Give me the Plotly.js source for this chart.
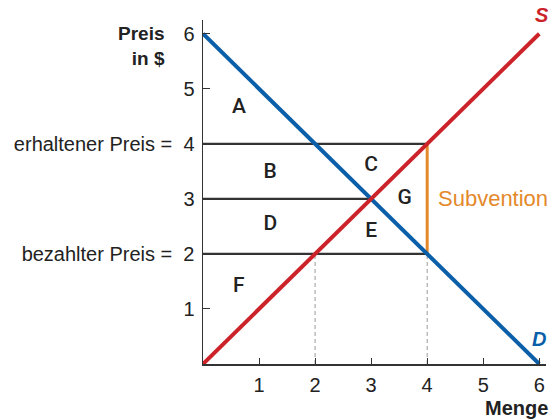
<!DOCTYPE html>
<html><head><meta charset="utf-8">
<script src="https://cdn.plot.ly/plotly-3.0.1.min.js"></script>
<style>html,body{margin:0;padding:0;background:#fff}#chart{width:551px;height:420px}</style>
</head><body><div id="chart"></div>
<script>
// Data
const demandQ = [0, 6];
const demandP = [6, 0];
const supplyQ = [0, 6];
const supplyP = [0, 6];
const receivedQ = [0, 4];
const receivedP = [4, 4];
const eqQ = [0, 3];
const eqP = [3, 3];
const paidQ = [0, 4];
const paidP = [2, 2];
const subsidyQ = [4, 4];
const subsidyP = [2, 4];
const dash2Q = [2, 2];
const dash2P = [0, 2];
const dash4Q = [4, 4];
const dash4P = [0, 2];
const yTickVals = [1, 2, 3, 4, 5, 6];
const yTickText = ['1', 'bezahlter Preis = \u00a02', '3', 'erhaltener Preis = \u00a04', '5', '6'];
const xTickVals = [1, 2, 3, 4, 5, 6];
const xTickText = ['1', '2', '3', '4', '5', '6'];
const areaLabels = ['A', 'B', 'C', 'D', 'E', 'F', 'G'];
const areaQ = [0.64, 1.2, 3.0, 1.2, 3.0, 0.64, 3.6];
const areaP = [4.65, 3.48, 3.6, 2.53, 2.4, 1.4, 3.0];

const blue = '#0a5fa8', red = '#cc2229', orange = '#e4892b', dark = '#333333';
const font = 'Liberation Sans, Arial, sans-serif';

const line = (x, y, color, width, dash) => ({x, y, mode: 'lines', type: 'scatter', hoverinfo: 'skip',
  line: {color, width, dash: dash || 'solid'}, showlegend: false, cliponaxis: false});

const traces = [
  line(dash2Q, dash2P, '#9a9a9a', 1, '4px,3px'),
  line(dash4Q, dash4P, '#9a9a9a', 1, '4px,3px'),
  line(receivedQ, receivedP, dark, 2.2),
  line(eqQ, eqP, dark, 2.2),
  line(paidQ, paidP, dark, 2.2),
  line(subsidyQ, subsidyP, orange, 3),
  line(demandQ, demandP, blue, 4),
  line(supplyQ, supplyP, red, 4),
  {x: areaQ, y: areaP, text: areaLabels, mode: 'text', type: 'scatter', hoverinfo: 'skip', showlegend: false,
   textfont: {family: 'Roboto, Liberation Sans, sans-serif', size: 21, color: '#222', weight: 500}, textposition: 'middle center'}
];

const layout = {
  width: 551, height: 420,
  margin: {l: 203, r: 5, t: 20, b: 56},
  paper_bgcolor: '#fff', plot_bgcolor: '#fff',
  showlegend: false,
  font: {family: font, size: 20, color: '#222'},
  xaxis: {range: [0, 6.12], showgrid: false, zeroline: false, showline: true, linecolor: dark, linewidth: 1.5,
    tickvals: xTickVals, ticktext: xTickText, ticks: 'inside', ticklen: 6, tickcolor: dark,
    tickfont: {family: font, size: 20, color: '#222'}, ticklabelstandoff: 2, fixedrange: true},
  yaxis: {range: [0, 6.25], showgrid: false, zeroline: false, showline: true, linecolor: dark, linewidth: 1.5,
    tickvals: yTickVals, ticktext: yTickText, ticks: 'inside', ticklen: 7, tickcolor: dark,
    tickfont: {family: font, size: 20, color: '#222'}, ticklabelstandoff: 3, fixedrange: true},
  annotations: [
    {xref: 'paper', yref: 'y', x: 0, y: 6, xshift: -36, text: '<b>Preis</b><br><b>in $</b>', showarrow: false,
     xanchor: 'right', yanchor: 'top', yshift: 13, align: 'right', font: {family: font, size: 19, color: '#222'}},
    {xref: 'x', yref: 'y', x: 4.15, y: 3.0, text: 'Subvention', showarrow: false, xanchor: 'left',
     font: {family: font, size: 22, color: orange}},
    {xref: 'x', yref: 'y', x: 6.05, y: 6.25, text: '<b><i>S</i></b>', showarrow: false, xanchor: 'center', yanchor: 'bottom', yshift: -8,
     font: {family: font, size: 20, color: red}},
    {xref: 'x', yref: 'y', x: 6.0, y: 0.45, text: '<b><i>D</i></b>', showarrow: false, xanchor: 'center',
     font: {family: font, size: 20, color: blue}},
    {xref: 'paper', yref: 'paper', x: 1, y: 0, yshift: -44, xshift: 4, text: '<b>Menge</b>', showarrow: false,
     xanchor: 'right', yanchor: 'middle', font: {family: font, size: 20, color: '#222'}}
  ]
};

Plotly.newPlot('chart', traces, layout, {displayModeBar: false, staticPlot: true});
</script></body></html>
